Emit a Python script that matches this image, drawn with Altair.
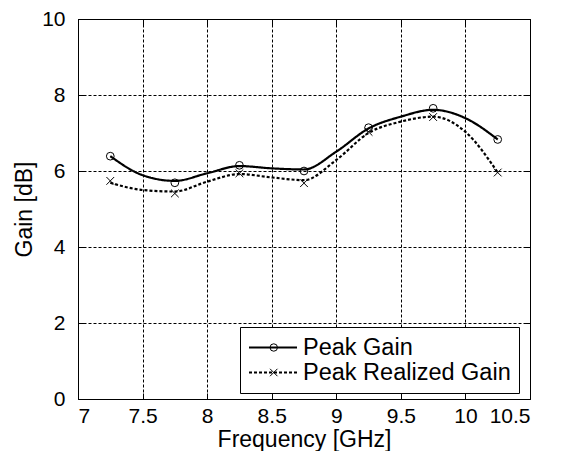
import altair as alt
import pandas as pd

# curve samples
freq_curve = [7.25, 7.5, 7.75, 8.0, 8.25, 8.5, 8.75, 9.0, 9.25, 9.5, 9.75, 10.0, 10.25]
pg_curve = [6.39, 5.89, 5.74, 5.94, 6.13, 6.07, 6.04, 6.51, 7.12, 7.43, 7.61, 7.39, 6.83]
prg_curve = [5.69, 5.50, 5.46, 5.72, 5.92, 5.83, 5.76, 6.29, 7.00, 7.30, 7.43, 7.03, 5.96]

# marker points
freq_mark = [7.25, 7.75, 8.25, 8.75, 9.25, 9.75, 10.25]
pg_mark = [6.39, 5.69, 6.15, 6.00, 7.14, 7.65, 6.83]
prg_mark = [5.74, 5.41, 5.94, 5.68, 7.03, 7.42, 5.96]

series = ["Peak Gain", "Peak Realized Gain"]
x_ticks = [7, 7.5, 8, 8.5, 9, 9.5, 10, 10.5]
y_ticks = [0, 2, 4, 6, 8, 10]

curves = pd.DataFrame(
    [{"f": f, "g": g, "series": series[0]} for f, g in zip(freq_curve, pg_curve)]
    + [{"f": f, "g": g, "series": series[1]} for f, g in zip(freq_curve, prg_curve)]
)
marks = pd.DataFrame(
    [{"f": f, "g": g, "series_m": series[0]} for f, g in zip(freq_mark, pg_mark)]
    + [{"f": f, "g": g, "series_m": series[1]} for f, g in zip(freq_mark, prg_mark)]
)

FONT = "Liberation Sans"
xs = alt.Scale(domain=[7, 10.5], nice=False)
ys = alt.Scale(domain=[0, 10], nice=False)


def tick_axis(values, orient):
    return alt.Axis(values=values, orient=orient, title=None, labels=False, grid=False, domain=False,
                    ticks=True, tickSize=6, tickColor="black", tickWidth=1, offset=-6)


lines = alt.Chart(curves).mark_line(interpolate="monotone", color="black", strokeWidth=2.2).encode(
    x=alt.X("f:Q", scale=xs,
            axis=alt.Axis(values=x_ticks, format="~g", orient="bottom", title="Frequency [GHz]",
                          titlePadding=2, labelPadding=6, titleFontSize=23)),
    y=alt.Y("g:Q", scale=ys,
            axis=alt.Axis(values=y_ticks, orient="left", title="Gain [dB]",
                          titlePadding=5, labelPadding=13, titleFontSize=23)),
    strokeDash=alt.StrokeDash(
        "series:N",
        scale=alt.Scale(domain=series, range=[[1, 0], [3, 2]]),
        legend=alt.Legend(
            title=None, orient="none", legendX=162, legendY=308,
            symbolType="stroke", symbolSize=2304, symbolStrokeWidth=2, symbolStrokeColor="black",
            clipHeight=25, padding=8, labelFontSize=23.5, labelFont=FONT, labelColor="black",
            labelOffset=5, labelLimit=400, rowPadding=0, strokeColor="black", fillColor="white",
            labelExpr="datum.label + '\u00a0'",
        ),
    ),
)

points = alt.Chart(marks).mark_point(filled=False, color="black", strokeWidth=1, size=60, opacity=1).encode(
    x=alt.X("f:Q", scale=xs, axis=tick_axis(x_ticks, "top")),
    y=alt.Y("g:Q", scale=ys, axis=tick_axis(y_ticks, "right")),
    shape=alt.Shape(
        "series_m:N",
        scale=alt.Scale(domain=series, range=["circle", "M-1,-1L1,1M-1,1L1,-1"]),
        legend=alt.Legend(
            title=None, orient="none", legendX=176, legendY=308,
            symbolSize=55, symbolStrokeWidth=1, symbolStrokeColor="black", symbolFillColor="white",
            clipHeight=25, padding=8, labelFontSize=23.5, labelFont=FONT,
            labelExpr="''", labelOffset=5, rowPadding=0, strokeColor="transparent",
        ),
    ),
)

ticks_in = alt.Chart(curves).mark_line(opacity=0).encode(
    x=alt.X("f:Q", scale=xs, axis=tick_axis(x_ticks, "bottom")),
    y=alt.Y("g:Q", scale=ys, axis=tick_axis(y_ticks, "left")),
    detail="series:N",
)

chart = alt.layer(lines, points, ticks_in).properties(
    width=452, height=380,
    autosize=alt.AutoSizeParams(type="none"),
    padding={"left": 70, "top": 11, "right": 22, "bottom": 52},
).configure_view(stroke="black", strokeWidth=1).configure_axis(
    labelFont=FONT, labelFontSize=21, labelColor="black",
    titleFont=FONT, titleFontSize=23, titleFontWeight="normal", titleColor="black",
    domain=False, ticks=False, grid=True, gridColor="black", gridDash=[3, 2], gridOpacity=1, gridWidth=1,
).resolve_legend(strokeDash="independent", shape="independent").resolve_axis(x="independent", y="independent")

chart.save("out.html", embed_options={"renderer": "svg", "actions": False})
